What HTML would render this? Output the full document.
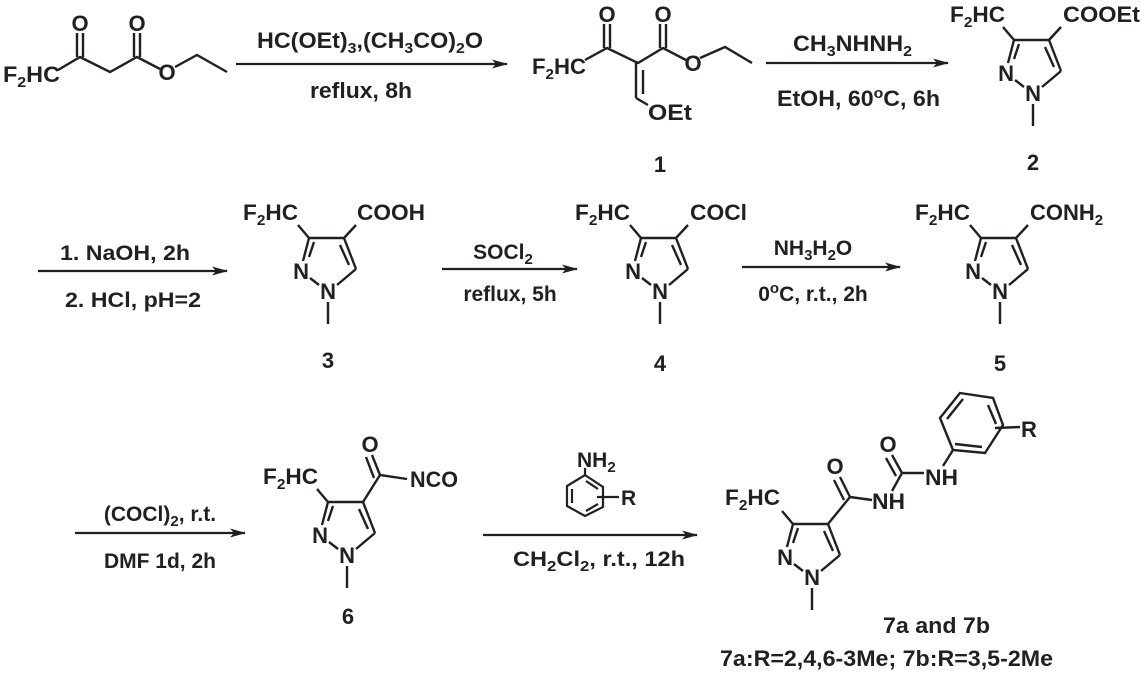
<!DOCTYPE html>
<html><head><meta charset="utf-8"><style>
html,body{margin:0;padding:0;background:#fff;}
svg{display:block;}
text{font-family:"Liberation Sans",Arial,sans-serif;font-weight:bold;fill:#231f20;}
</style></head><body>
<svg width="1142" height="673" viewBox="0 0 1142 673" xmlns="http://www.w3.org/2000/svg">
<defs>
<marker id="ah" markerWidth="16" markerHeight="9" refX="15" refY="4.5" orient="auto" markerUnits="userSpaceOnUse">
<path d="M0,0 L16,4.5 L0,9 L4,4.5 Z" fill="#231f20"/></marker>
<g id="pz" stroke="#231f20" stroke-width="2.4" fill="none">
<line x1="-25" y1="-30" x2="-19" y2="-53"/>
<line x1="-19" y1="-34" x2="-14" y2="-49"/>
<line x1="-19" y1="-53" x2="16" y2="-53"/>
<line x1="16" y1="-53" x2="28" y2="-22"/>
<line x1="12" y1="-46" x2="21" y2="-26"/>
<line x1="28" y1="-22" x2="9" y2="-6"/>
<line x1="-18" y1="-13" x2="-9" y2="-6"/>
<line x1="0" y1="11" x2="0" y2="33"/>
<line x1="-19" y1="-53" x2="-30" y2="-66"/>
</g>
</defs>
<g font-size="22">
<!-- starting material -->
<g stroke="#231f20" stroke-width="2.4" fill="none">
<polyline points="58,70 80,57 110,72 137,57 160,69"/>
<line x1="77" y1="57" x2="77" y2="33"/><line x1="83" y1="57" x2="83" y2="33"/>
<line x1="134" y1="57" x2="134" y2="33"/><line x1="140" y1="57" x2="140" y2="33"/>
<polyline points="175,67 197,55 227,72"/>
</g>
<text x="3" y="82" textLength="57" lengthAdjust="spacingAndGlyphs">F<tspan font-size="15" dy="5">2</tspan><tspan dy="-5">HC</tspan></text>
<text x="80" y="31" text-anchor="middle">O</text>
<text x="137" y="31" text-anchor="middle">O</text>
<text x="167" y="80" text-anchor="middle">O</text>
<!-- arrow 1 -->
<line x1="236" y1="64" x2="507" y2="64" stroke="#231f20" stroke-width="2.2" marker-end="url(#ah)"/>
<text x="257" y="48" font-size="22" textLength="226" lengthAdjust="spacingAndGlyphs">HC(OEt)<tspan font-size="15" dy="5">3</tspan><tspan dy="-5">,(CH</tspan><tspan font-size="15" dy="5">3</tspan><tspan dy="-5">CO)</tspan><tspan font-size="15" dy="5">2</tspan><tspan dy="-5">O</tspan></text>
<text x="310" y="98" font-size="22" textLength="102" lengthAdjust="spacingAndGlyphs">reflux, 8h</text>
<!-- compound 1 -->
<g stroke="#231f20" stroke-width="2.4" fill="none">
<polyline points="585,60 607,48 638,63 663,48 686,60"/>
<line x1="604" y1="48" x2="604" y2="24"/><line x1="610" y1="48" x2="610" y2="24"/>
<line x1="660" y1="48" x2="660" y2="24"/><line x1="666" y1="48" x2="666" y2="24"/>
<polyline points="700,58 725,47 752,63"/>
<line x1="636" y1="63" x2="636" y2="98"/><line x1="643" y1="70" x2="643" y2="94"/>
<line x1="636" y1="98" x2="648" y2="105"/>
</g>
<text x="532" y="74" textLength="54" lengthAdjust="spacingAndGlyphs">F<tspan font-size="15" dy="5">2</tspan><tspan dy="-5">HC</tspan></text>
<text x="607" y="22" text-anchor="middle">O</text>
<text x="663" y="22" text-anchor="middle">O</text>
<text x="693" y="71" text-anchor="middle">O</text>
<text x="648" y="120" textLength="44" lengthAdjust="spacingAndGlyphs">OEt</text>
<text x="660" y="172" text-anchor="middle">1</text>
<!-- arrow 2 -->
<line x1="766" y1="63" x2="948" y2="63" stroke="#231f20" stroke-width="2.2" marker-end="url(#ah)"/>
<text x="793" y="51" font-size="22" textLength="119" lengthAdjust="spacingAndGlyphs">CH<tspan font-size="15" dy="5">3</tspan><tspan dy="-5">NHNH</tspan><tspan font-size="15" dy="5">2</tspan></text>
<text x="777" y="106" font-size="22" textLength="163" lengthAdjust="spacingAndGlyphs">EtOH, 60<tspan font-size="15" dy="-8">o</tspan><tspan dy="8">C, 6h</tspan></text>
<!-- compound 2 -->
<g transform="translate(1033,93)">
<use href="#pz"/>
<line x1="16" y1="-53" x2="28" y2="-66" stroke="#231f20" stroke-width="2.4"/>
<text x="0" y="8" text-anchor="middle">N</text>
<text x="-27" y="-12" text-anchor="middle">N</text>
<text x="-83" y="-71" textLength="55" lengthAdjust="spacingAndGlyphs">F<tspan font-size="15" dy="5">2</tspan><tspan dy="-5">HC</tspan></text>
<text x="30" y="-71" textLength="77" lengthAdjust="spacingAndGlyphs">COOEt</text>
<text x="0" y="77" text-anchor="middle">2</text>
</g>
<!-- arrow 3 -->
<line x1="38" y1="271" x2="227" y2="271" stroke="#231f20" stroke-width="2.2" marker-end="url(#ah)"/>
<text x="125" y="260" font-size="21" text-anchor="middle" textLength="130" lengthAdjust="spacingAndGlyphs">1. NaOH, 2h</text>
<text x="133" y="307" font-size="21" text-anchor="middle" textLength="136" lengthAdjust="spacingAndGlyphs">2. HCl, pH=2</text>
<!-- compound 3 -->
<g transform="translate(328,291)">
<use href="#pz"/>
<line x1="16" y1="-53" x2="28" y2="-66" stroke="#231f20" stroke-width="2.4"/>
<text x="0" y="8" text-anchor="middle">N</text>
<text x="-27" y="-12" text-anchor="middle">N</text>
<text x="-85" y="-71" textLength="55" lengthAdjust="spacingAndGlyphs">F<tspan font-size="15" dy="5">2</tspan><tspan dy="-5">HC</tspan></text>
<text x="29" y="-71" textLength="68" lengthAdjust="spacingAndGlyphs">COOH</text>
<text x="0" y="77" text-anchor="middle">3</text>
</g>
<!-- arrow 4 -->
<line x1="442" y1="269" x2="577" y2="269" stroke="#231f20" stroke-width="2.2" marker-end="url(#ah)"/>
<text x="503" y="259" font-size="21" text-anchor="middle">SOCl<tspan font-size="15" dy="5">2</tspan></text>
<text x="510" y="301" font-size="21" text-anchor="middle">reflux, 5h</text>
<!-- compound 4 -->
<g transform="translate(660,291)">
<use href="#pz"/>
<line x1="16" y1="-53" x2="28" y2="-66" stroke="#231f20" stroke-width="2.4"/>
<text x="0" y="8" text-anchor="middle">N</text>
<text x="-27" y="-12" text-anchor="middle">N</text>
<text x="-85" y="-71" textLength="55" lengthAdjust="spacingAndGlyphs">F<tspan font-size="15" dy="5">2</tspan><tspan dy="-5">HC</tspan></text>
<text x="30" y="-71" textLength="57" lengthAdjust="spacingAndGlyphs">COCl</text>
<text x="0" y="80" text-anchor="middle">4</text>
</g>
<!-- arrow 5 -->
<line x1="742" y1="267" x2="900" y2="267" stroke="#231f20" stroke-width="2.2" marker-end="url(#ah)"/>
<text x="813" y="255" font-size="21" text-anchor="middle">NH<tspan font-size="15" dy="5">3</tspan><tspan dy="-5">H</tspan><tspan font-size="15" dy="5">2</tspan><tspan dy="-5">O</tspan></text>
<text x="813" y="301" font-size="21" text-anchor="middle">0<tspan font-size="15" dy="-8">o</tspan><tspan dy="8">C, r.t., 2h</tspan></text>
<!-- compound 5 -->
<g transform="translate(1000,291)">
<use href="#pz"/>
<line x1="16" y1="-53" x2="28" y2="-66" stroke="#231f20" stroke-width="2.4"/>
<text x="0" y="8" text-anchor="middle">N</text>
<text x="-27" y="-12" text-anchor="middle">N</text>
<text x="-85" y="-71" textLength="55" lengthAdjust="spacingAndGlyphs">F<tspan font-size="15" dy="5">2</tspan><tspan dy="-5">HC</tspan></text>
<text x="30" y="-71">CONH<tspan font-size="15" dy="5">2</tspan></text>
<text x="0" y="80" text-anchor="middle">5</text>
</g>
<!-- arrow 6 -->
<line x1="75" y1="533" x2="245" y2="533" stroke="#231f20" stroke-width="2.2" marker-end="url(#ah)"/>
<text x="160" y="521" font-size="21" text-anchor="middle">(COCl)<tspan font-size="15" dy="5">2</tspan><tspan dy="-5">, r.t.</tspan></text>
<text x="160" y="568" font-size="21" text-anchor="middle">DMF 1d, 2h</text>
<!-- compound 6 -->
<g transform="translate(347,555)">
<use href="#pz"/>
<g stroke="#231f20" stroke-width="2.4">
<line x1="16" y1="-53" x2="33" y2="-80"/>
<line x1="33" y1="-80" x2="25" y2="-100"/><line x1="27" y1="-77" x2="19" y2="-98"/>
<line x1="33" y1="-80" x2="60" y2="-76"/>
</g>
<text x="0" y="8" text-anchor="middle">N</text>
<text x="-27" y="-12" text-anchor="middle">N</text>
<text x="-84" y="-71" textLength="55" lengthAdjust="spacingAndGlyphs">F<tspan font-size="15" dy="5">2</tspan><tspan dy="-5">HC</tspan></text>
<text x="23" y="-103" text-anchor="middle">O</text>
<text x="63" y="-68" textLength="48" lengthAdjust="spacingAndGlyphs">NCO</text>
<text x="1" y="69" text-anchor="middle">6</text>
</g>
<!-- arrow 7 with aniline -->
<line x1="483" y1="535" x2="697" y2="535" stroke="#231f20" stroke-width="2.2" marker-end="url(#ah)"/>
<g stroke="#231f20" stroke-width="2.2" fill="none">
<polygon points="585,475 603,487 603,507 585,516 567,506 567,486"/>
<line x1="586" y1="481" x2="598" y2="489"/>
<line x1="598" y1="504" x2="586" y2="511"/>
<line x1="572" y1="489" x2="572" y2="503"/>
<line x1="585" y1="475" x2="585" y2="468"/>
<line x1="597" y1="497" x2="619" y2="497"/>
</g>
<text x="577" y="467" font-size="21">NH<tspan font-size="15" dy="5">2</tspan></text>
<text x="621" y="505" font-size="21">R</text>
<text x="513" y="566" font-size="21" textLength="172" lengthAdjust="spacingAndGlyphs">CH<tspan font-size="15" dy="5">2</tspan><tspan dy="-5">Cl</tspan><tspan font-size="15" dy="5">2</tspan><tspan dy="-5">, r.t., 12h</tspan></text>
<!-- compound 7 -->
<g transform="translate(812,577)">
<use href="#pz"/>
<g stroke="#231f20" stroke-width="2.4" fill="none">
<line x1="16" y1="-53" x2="38" y2="-80"/>
<line x1="38" y1="-80" x2="28" y2="-100"/><line x1="32" y1="-77" x2="22" y2="-97"/>
<line x1="38" y1="-80" x2="60" y2="-77"/>
<line x1="80" y1="-86" x2="90" y2="-104"/>
<line x1="90" y1="-104" x2="80" y2="-122"/><line x1="84" y1="-101" x2="74" y2="-119"/>
<line x1="90" y1="-104" x2="112" y2="-104"/>
<line x1="131" y1="-111" x2="141" y2="-127"/>
<polygon points="141,-127 128,-159 148,-184 181,-179 191,-152 173,-124"/>
<line x1="135" y1="-158" x2="151" y2="-178"/>
<line x1="176" y1="-172" x2="184" y2="-153"/>
<line x1="143" y1="-133" x2="170" y2="-130"/>
<line x1="183" y1="-149" x2="208" y2="-150"/>
</g>
<text x="0" y="8" text-anchor="middle">N</text>
<text x="-27" y="-12" text-anchor="middle">N</text>
<text x="-87" y="-72" textLength="55" lengthAdjust="spacingAndGlyphs">F<tspan font-size="15" dy="5">2</tspan><tspan dy="-5">HC</tspan></text>
<text x="23" y="-103" text-anchor="middle">O</text>
<text x="60" y="-68" textLength="33" lengthAdjust="spacingAndGlyphs">NH</text>
<text x="76" y="-125" text-anchor="middle">O</text>
<text x="113" y="-92" textLength="33" lengthAdjust="spacingAndGlyphs">NH</text>
<text x="209" y="-140">R</text>
</g>
<text x="883" y="633" font-size="22" textLength="107" lengthAdjust="spacingAndGlyphs">7a and 7b</text>
<text x="720" y="666" font-size="22" textLength="333" lengthAdjust="spacingAndGlyphs">7a:R=2,4,6-3Me; 7b:R=3,5-2Me</text>
</g>
</svg>
</body></html>
